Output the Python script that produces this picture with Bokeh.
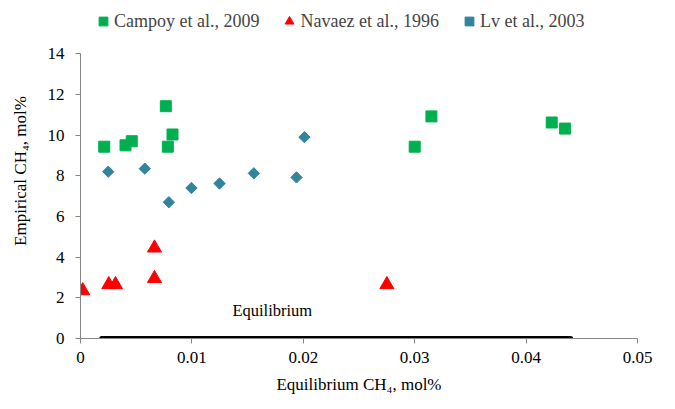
from bokeh.plotting import figure
from bokeh.models import (Legend, LegendItem, FixedTicker, NumeralTickFormatter, Range1d)
from bokeh.core.properties import value
from bokeh.embed import file_html
from bokeh.resources import INLINE
import math

# Campoy et al., 2009
campoy_x = [0.00213, 0.00404, 0.0046, 0.00766, 0.00784, 0.00826, 0.0300, 0.0315, 0.0423, 0.0435]
campoy_y = [9.43, 9.5, 9.7, 11.42, 9.43, 10.03, 9.43, 10.92, 10.62, 10.32]

# Navaez et al., 1996
navaez_x = [0.0002, 0.00254, 0.00314, 0.00664, 0.00664, 0.0275]
navaez_y = [2.35, 2.65, 2.65, 4.45, 2.95, 2.65]

# Lv et al., 2003
lv_x = [0.00249, 0.00577, 0.00793, 0.00996, 0.01248, 0.01556, 0.01939, 0.0201]
lv_y = [8.2, 8.35, 6.7, 7.4, 7.62, 8.12, 7.92, 9.9]

# Equilibrium line
eq_x = [0.0019, 0.0440]
eq_y = [0.0, 0.0]

x_ticks = [0, 0.01, 0.02, 0.03, 0.04, 0.05]
y_ticks = [0, 2, 4, 6, 8, 10, 12, 14]

FONT = "Liberation Serif"
AXIS_GRAY = "#868686"

# The y range runs a little past 14 so the legend can sit inside the frame,
# above the top of the (bounded) y axis.
p = figure(width=675, height=409, output_backend="svg", toolbar_location=None,
           x_range=Range1d(0, 0.05), y_range=Range1d(0, 16.47),
           min_border_left=80, min_border_right=38,
           min_border_top=3, min_border_bottom=71)
p.outline_line_color = None
p.xgrid.visible = False
p.ygrid.visible = False

p.line(eq_x, eq_y, line_color="black", line_width=5, line_cap="round")
p.text(x=[0.01364], y=[1.4], text=["Equilibrium"], text_font=value(FONT),
       text_font_size="16.5px", text_baseline="middle", text_align="left",
       text_color="black")

r_campoy = p.scatter(campoy_x, campoy_y, marker="square", size=11,
                     fill_color="#00B050", line_color="#00B050")
r_navaez = p.scatter(navaez_x, navaez_y, marker="triangle", size=14,
                     fill_color="#FF0000", line_color="#FF0000")
r_lv = p.scatter(lv_x, lv_y, marker="square", size=8, angle=math.pi / 4,
                 fill_color="#31849B", line_color="#31849B")

for ax in (p.xaxis[0], p.yaxis[0]):
    ax.axis_line_color = AXIS_GRAY
    ax.major_tick_line_color = AXIS_GRAY
    ax.minor_tick_line_color = None
    ax.major_tick_in = 0
    ax.major_tick_out = 5
    ax.major_label_text_font = FONT
    ax.major_label_text_font_size = "17px"
    ax.major_label_text_color = "black"
    ax.axis_label_text_font = FONT
    ax.axis_label_text_font_size = "17px"
    ax.axis_label_text_font_style = "normal"
    ax.axis_label_text_color = "black"

p.xaxis.ticker = FixedTicker(ticks=x_ticks)
p.xaxis.formatter = NumeralTickFormatter(format="0.[00]")
p.xaxis.axis_label = "Equilibrium CH\u2084, mol%"
p.xaxis.major_label_standoff = 8
p.xaxis.axis_label_standoff = 9

p.yaxis.ticker = FixedTicker(ticks=y_ticks)
p.yaxis.bounds = (0, 14)
p.yaxis.axis_label = "Empirical CH\u2084, mol%"
p.yaxis.major_label_standoff = 11
p.yaxis.axis_label_standoff = 15

legend = Legend(items=[LegendItem(label="Campoy et al., 2009", renderers=[r_campoy]),
                       LegendItem(label="Navaez et al., 1996", renderers=[r_navaez]),
                       LegendItem(label="Lv et al., 2003", renderers=[r_lv])],
                orientation="horizontal", location=(12, 306),
                label_text_font=FONT, label_text_font_size="18px",
                glyph_width=22, glyph_height=22, label_standoff=0, spacing=19,
                padding=0, margin=0, border_line_color=None,
                background_fill_alpha=0)
p.add_layout(legend, "center")

open("out.html", "w").write(file_html(p, INLINE))
